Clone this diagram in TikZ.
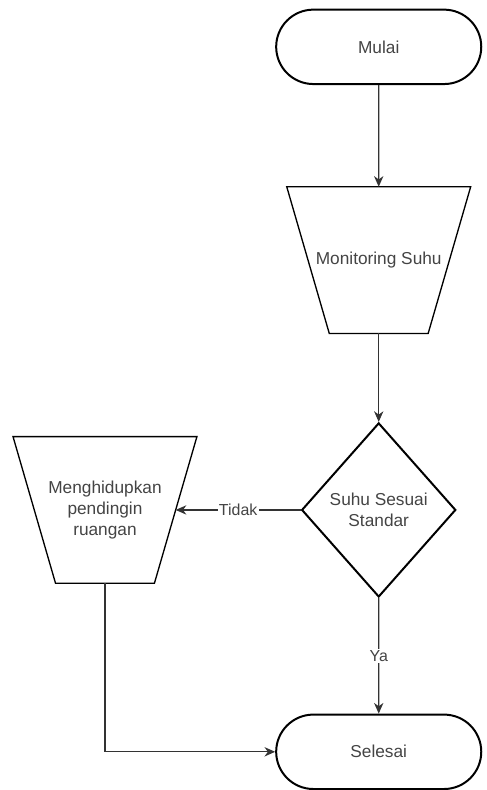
\documentclass[tikz,border=0pt]{standalone}
\usepackage{fontspec}
\setmainfont{Liberation Sans}
\usetikzlibrary{shapes.geometric,shapes.misc,arrows.meta}

\definecolor{textgray}{HTML}{444444}
\definecolor{linegray}{HTML}{333333}

\tikzstyle{arrow} = [line width=0.9pt,draw=linegray,->,>={Stealth[length=8pt,width=7pt,inset=2.5pt]}]
\tikzstyle{terminal} = [
        rounded rectangle,
        minimum width=161pt,
        minimum height=56pt,
        text centered,
        draw=black,
        line width=1.5pt,
        text=textgray
    ]
\tikzstyle{manual} = [
        rectangle,
        minimum width=138pt,
        minimum height=110pt,
        align=center,
        text=textgray
    ]
\tikzstyle{manualedge} = [draw=black, line width=1pt]
\tikzstyle{decision} = [
        diamond,
        minimum width=116pt,
        minimum height=131pt,
        inner sep=0pt,
        align=center,
        draw=black,
        line width=1.5pt,
        text=textgray
    ]
\tikzstyle{answer} = [
        fill=white,
        inner sep=1pt,
        text=textgray,
        font=\fontsize{12}{14}\selectfont
    ]

\begin{document}
\begin{tikzpicture}[node distance=188pt, font=\fontsize{13}{16}\selectfont]

        \node [terminal] (mulai) {Mulai};
        \node [manual, below of=mulai, yshift=27.5pt] (monitoring) {Monitoring Suhu};
        \node [decision, below of=monitoring] (cek) {Suhu Sesuai\\Standar};
        \node [manual, left of=cek, xshift=-18pt] (pendingin) {Menghidupkan\\pendingin\\ruangan};
        \node [terminal, below of=cek, yshift=6pt] (selesai) {Selesai};

        % page frame (488 x 790 px)
        \useasboundingbox (-285pt,35.25pt) rectangle (81pt,-557.25pt);

        % manual operation outlines
        \draw [manualedge] (monitoring.north west) -- (monitoring.north east)
            -- ([xshift=-32pt]monitoring.south east) -- ([xshift=32pt]monitoring.south west) -- cycle;
        \draw [manualedge] (pendingin.north west) -- (pendingin.north east)
            -- ([xshift=-32pt]pendingin.south east) -- ([xshift=32pt]pendingin.south west) -- cycle;
        \coordinate (pendinginside) at ([xshift=-16pt]pendingin.east);

        \draw [arrow] (mulai) -- (monitoring);
        \draw [arrow] (monitoring) -- (cek);
        \draw [arrow] (cek) -- node [answer, pos=0.5] {Tidak} (pendinginside);
        \draw [arrow] (cek) -- node [answer, pos=0.5] {Ya} (selesai);
        \draw [arrow] (pendingin.south) |- (selesai.west);

    \end{tikzpicture}
\end{document}
